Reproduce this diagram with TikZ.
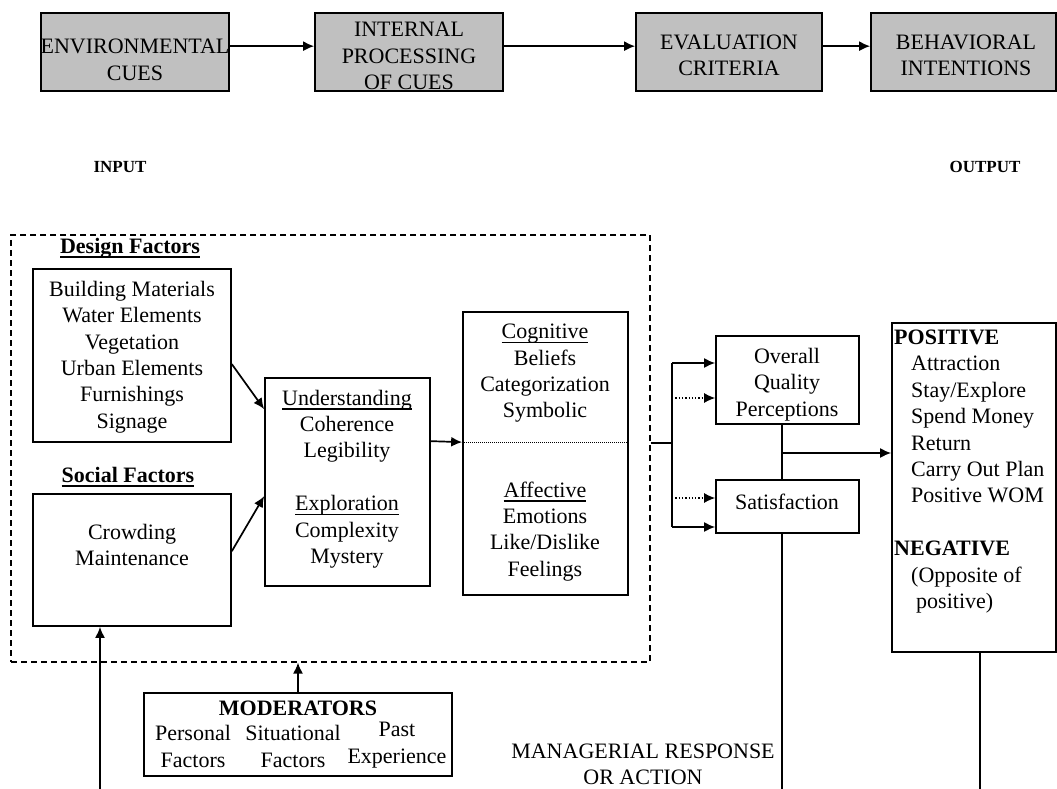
\documentclass[tikz,border=0pt]{standalone}
\usepackage{fontspec}
\setmainfont{Liberation Serif}
\usetikzlibrary{arrows.meta,calc,fit}
\definecolor{cuegray}{RGB}{192,192,192}
% underline with a rule of fixed weight
\newcommand{\undl}[1]{\setbox0\hbox{#1}\rlap{\raisebox{-4.5pt}{\rule{\wd0}{1.4pt}}}\box0}

\begin{document}
\begin{tikzpicture}[x=1pt,y=-1pt,
  every node/.style={font=\fontsize{22}{26.4}\selectfont, inner sep=0pt},
  box/.style={draw, line width=1.7pt, rectangle},
  stagebox/.style={box, fill=cuegray},
  lbl/.style={align=center},
  link/.style={line width=1.7pt, -{Latex[length=11pt,width=10pt]}},
  dotlink/.style={line width=1.3pt, dotted, -{Latex[length=11pt,width=10pt]}},
  plain/.style={line width=1.7pt},
]
\useasboundingbox (0,0) rectangle (1057,789);

% ---- top row: processing stages ----
\node[stagebox, fit={(41,13) (229,91)}] (env) {};
\node[stagebox, fit={(315,13) (503,91)}] (intp) {};
\node[stagebox, fit={(636,13) (822,91)}] (eval) {};
\node[stagebox, fit={(871,13) (1056,91)}] (behav) {};
\node[lbl] (envT) at (135,60) {ENVIRONMENTAL\\CUES};
\node[lbl] (intpT) at (409,56) {INTERNAL\\PROCESSING\\OF CUES};
\node[lbl] (evalT) at (729,55.5) {EVALUATION\\CRITERIA};
\node[lbl] (behavT) at (966,55.5) {BEHAVIORAL\\INTENTIONS};
\draw[link] ($(env.north east)+(0,34)$) -- ($(intp.north west)+(0,34)$);
\draw[link] ($(intp.north east)+(0,34)$) -- ($(eval.north west)+(0,34)$);
\draw[link] ($(eval.north east)+(0,34)$) -- ($(behav.north west)+(0,34)$);

\node[font=\fontsize{17}{20}\selectfont\bfseries] (input) at (120,167) {INPUT};
\node[font=\fontsize{17}{20}\selectfont\bfseries] (output) at (985,167) {OUTPUT};

% ---- environment frame ----
\node[draw, line width=1.2pt, dash pattern=on 6pt off 4pt, fit={(11,235) (650,662)}] (frame) {};

\node[font=\fontsize{22}{26.4}\selectfont\bfseries] (designL) at (130,248) {\undl{Design Factors}};
\node[box, fit={(33,269) (231,442)}] (design) {};
\node[lbl] (designT) at (132,357) {Building Materials\\Water Elements\\Vegetation\\Urban Elements\\Furnishings\\Signage};

\node[font=\fontsize{22}{26.4}\selectfont\bfseries] (socialL) at (128,477) {\undl{Social Factors}};
\node[box, fit={(33,494) (231,626)}] (social) {};
\node[lbl] (socialT) at (132,545) {Crowding\\Maintenance};

\node[box, fit={(265,378) (430,586)}] (under) {};
\node[lbl] (underT) at (347,479) {\undl{Understanding}\\Coherence\\Legibility\\[26.4pt]\undl{Exploration}\\Complexity\\Mystery};

\node[box, fit={(463,312) (628,595)}] (cogn) {};
\node[lbl] (cognT) at (545,452.5) {\undl{Cognitive}\\Beliefs\\Categorization\\Symbolic\\[52.8pt]\undl{Affective}\\Emotions\\Like/Dislike\\Feelings};
\draw[densely dotted, line width=1pt] ($(cogn.north west)+(0,131)$) -- ($(cogn.north east)+(0,131)$);

\draw[link] ($(design.north east)+(0,96)$) -- ($(under.north west)+(0,32)$);
\draw[link] ($(social.north east)+(0,58)$) -- ($(under.north west)+(0,119)$);
\draw[link] ($(under.north east)+(0,64)$) -- ($(cogn.north west)+(0,131)$);

% ---- evaluation outcomes ----
\node[box, fit={(716,336) (859,424)}] (overall) {};
\node[lbl] (overallT) at (787,384.5) {Overall\\Quality\\Perceptions};
\node[box, fit={(716,480) (859,533)}] (satis) {};
\node[lbl] (satisT) at (787,502) {Satisfaction};

\coordinate (split) at (672,443);
\coordinate (bt) at (672,363);
\coordinate (d1) at (672,398);
\coordinate (d2) at (672,498);
\coordinate (bb) at (672,527);
\draw[plain] (frame.east |- split) -- (split);
\draw[plain] (bt) -- (bb);
\draw[link] (bt) -- (bt -| overall.west);
\draw[dotlink] (d1) -- (d1 -| overall.west);
\draw[dotlink] (d2) -- (d2 -| satis.west);
\draw[link] (bb) -- (bb -| satis.west);

% ---- behavioural outcomes ----
\node[box, fit={(892,323) (1056,652)}] (outcome) {};
\node[align=left, anchor=west] (outcomeT) at (894,471.5) {\textbf{POSITIVE}\\
  \hspace*{17pt}Attraction\\
  \hspace*{17pt}Stay/Explore\\
  \hspace*{17pt}Spend Money\\
  \hspace*{17pt}Return\\
  \hspace*{17pt}Carry Out Plan\\
  \hspace*{17pt}Positive WOM\\[26.4pt]
  \textbf{NEGATIVE}\\
  \hspace*{17pt}(Opposite of\\
  \hspace*{22pt}positive)};

\coordinate (qx) at (782,453);
\draw[plain] (overall.south -| qx) -- (satis.north -| qx);
\draw[link] (qx) -- (qx -| outcome.west);

% ---- feedback lines ----
\coordinate (mgr) at (782,789);
\draw[plain] (satis.south -| mgr) -- (mgr);
\coordinate (outEnd) at (980,789);
\draw[plain] (outcome.south -| outEnd) -- (outEnd);
\node[lbl] (mgrT) at (643,764.5) {MANAGERIAL RESPONSE\\OR ACTION};

\coordinate (fb) at (100,789);
\draw[link] (fb) -- (fb |- social.south);

% ---- moderators ----
\node[box, fit={(144,693) (452,776)}] (moder) {};
\node[font=\fontsize{22}{26.4}\selectfont\bfseries] (moderT) at (298,708) {MODERATORS};
\node[lbl] (persT) at (193,746.5) {Personal\\Factors};
\node[lbl] (sitT) at (293,746.5) {Situational\\Factors};
\node[lbl] (pastT) at (397,745) {Past\\Experience};
\draw[link] (moder.north) -- (moder.north |- frame.south);
\end{tikzpicture}
\end{document}
